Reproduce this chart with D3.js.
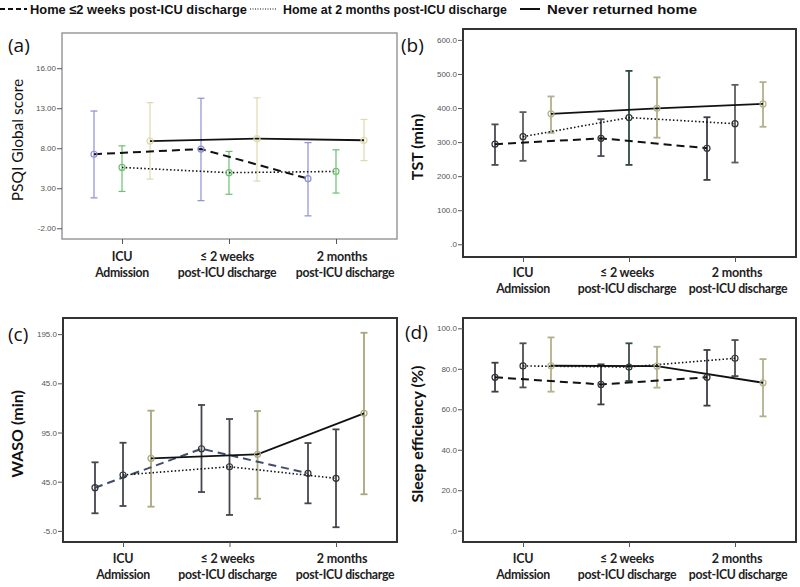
<!DOCTYPE html>
<html><head><meta charset="utf-8">
<script src="https://cdn.jsdelivr.net/npm/d3@7"></script>
<style>body{margin:0;background:#fff}svg{display:block}</style>
</head><body>
<svg id="chart" width="800" height="587"></svg>
<script>
// ---------- data ----------
const groups = ["Home \u22642 weeks post-ICU discharge", "Home at 2 months post-ICU discharge", "Never returned home"];
const catLine1 = ["ICU", "\u2264  2 weeks", "2 months"];
const catLine2 = ["Admission", "post-ICU discharge", "post-ICU discharge"];

// (a) PSQI Global score
const psqiTicks = [-2, 3, 8, 13, 18];
const psqiTickLabels = ["-2.00", "3.00", "8.00", "13.00", "16.00"];
const psqiMean = [[7.25, 7.9, 4.2], [5.6, 4.95, 5.1], [8.9, 9.2, 9.0]];
const psqiLow  = [[1.8, 1.45, -0.45], [2.6, 2.25, 2.4], [4.15, 3.9, 6.45]];
const psqiHigh = [[12.65, 14.25, 8.7], [8.3, 7.6, 7.8], [13.7, 14.3, 11.6]];

// (b) TST (min)
const tstTicks = [0, 100, 200, 300, 400, 500, 600];
const tstTickLabels = [".0", "100.0", "200.0", "300.0", "400.0", "500.0", "600.0"];
const tstMean = [[294, 311, 282], [316, 372, 354], [383, 399, 412]];
const tstLow  = [[233, 259, 189], [245, 233, 240], [327, 313, 345]];
const tstHigh = [[352, 367, 373], [388, 509, 468], [434, 490, 476]];

// (c) WASO (min)
const wasoTicks = [-5, 45, 95, 145, 195];
const wasoTickLabels = ["-5.0", "45.0", "95.0", "45.0", "195.0"];
const wasoMean = [[38.9, 78.5, 53.5], [51.8, 60.2, 48.4], [68.8, 72.8, 114.5]];
const wasoLow  = [[12.9, 34.5, 23], [20.3, 11.2, -1.3], [19.6, 27.7, 32.2]];
const wasoHigh = [[64.7, 123, 84.3], [84.6, 108.7, 98.2], [117.2, 116.8, 196.4]];

// (d) Sleep efficiency (%)
const seTicks = [0, 20, 40, 60, 80, 100];
const seTickLabels = [".0", "20.0", "40.0", "60.0", "80.0", "100.0"];
const seMean = [[75.8, 72.3, 75.8], [81.4, 80.9, 85.2], [81.5, 81.3, 73.1]];
const seLow  = [[68.7, 62.4, 61.8], [70.8, 74, 76.4], [68.7, 70.7, 56.5]];
const seHigh = [[83, 82.2, 89.3], [92.6, 92.6, 94.2], [95.5, 90.9, 84.8]];

// ---------- drawing ----------
const svg = d3.select("#chart");
const lineDash = ["8,5", "1.5,2.2", null];
const lineW = [2, 1.6, 1.8];

const panels = [
  {tag: "(a)", title: "PSQI Global score", bold: false, x0: 62, x1: 397, y0: 33, y1: 239,
   domain: [-3.34, 22.4], ticks: psqiTicks, labels: psqiTickLabels, mean: psqiMean, low: psqiLow, high: psqiHigh,
   barColors: [["#8c90d4","#8c90d4","#8c90d4"],["#6dbf72","#6dbf72","#6dbf72"],["#dedaae","#dedaae","#dedaae"]],
   barW: 1.2, lineColors: ["#111","#111","#111"], frame: "#8a8a8a", frameW: 1.3,
   tagPos: [8, 52], titleX: 17, labY: 257, shift: 6},
  {tag: "(b)", title: "TST (min)", bold: true, x0: 463, x1: 796, y0: 29, y1: 257,
   domain: [-37.3, 632], ticks: tstTicks, labels: tstTickLabels, mean: tstMean, low: tstLow, high: tstHigh,
   barColors: [["#4a4c55","#4a4c55","#3c3e48"],["#5a5e60","#2f4d3e","#5a5e60"],["#b3b08a","#b3b08a","#b3b08a"]],
   barW: 1.8, lineColors: ["#111","#111","#111"], frame: "#333", frameW: 2,
   tagPos: [401, 52], titleX: 417, labY: 273, shift: 2},
  {tag: "(c)", title: "WASO (min)", bold: true, x0: 63, x1: 397, y0: 318, y1: 542,
   domain: [-16.3, 211.4], ticks: wasoTicks, labels: wasoTickLabels, mean: wasoMean, low: wasoLow, high: wasoHigh,
   barColors: [["#45474f","#45474f","#45474f"],["#45474f","#45474f","#45474f"],["#aaa67e","#aaa67e","#aaa67e"]],
   barW: 1.8, lineColors: ["#3d4d6a","#111","#111"], frame: "#333", frameW: 2,
   tagPos: [8, 341], titleX: 17, labY: 559, shift: 6},
  {tag: "(d)", title: "Sleep efficiency  (%)", bold: true, x0: 463, x1: 796, y0: 318, y1: 542,
   domain: [-5.58, 105.1], ticks: seTicks, labels: seTickLabels, mean: seMean, low: seLow, high: seHigh,
   barColors: [["#3c3e46","#3c3e46","#3c3e46"],["#4b4f52","#3a4f44","#4b4f52"],["#b3b08a","#b3b08a","#b3b08a"]],
   barW: 1.8, lineColors: ["#111","#111","#111"], frame: "#333", frameW: 2,
   tagPos: [405, 339], titleX: 417, labY: 559, shift: 2}
];

panels.forEach(p => {
  const g = svg.append("g");
  const x = d3.scalePoint().domain(catLine1).range([p.x0 + 60, p.x1 - 61]);
  const off = d3.scalePoint().domain(groups).range([-28, 28]);
  const y = d3.scaleLinear().domain(p.domain).range([p.y1, p.y0]);

  // frame
  g.append("rect").attr("x", p.x0).attr("y", p.y0).attr("width", p.x1 - p.x0).attr("height", p.y1 - p.y0)
    .attr("fill", "none").attr("stroke", p.frame).attr("stroke-width", p.frameW);

  // y axis
  const yAxis = d3.axisLeft(y).tickValues(p.ticks).tickSize(5).tickPadding(1)
    .tickFormat((d, i) => p.labels[i]);
  const ya = g.append("g").attr("transform", `translate(${p.x0},0)`).call(yAxis);
  ya.select(".domain").remove();
  ya.selectAll(".tick line").attr("stroke", "#555");
  ya.selectAll(".tick text").attr("fill", "#555").style("font", "8px 'Liberation Sans', Arial, sans-serif");

  // x axis ticks
  const xAxis = d3.axisBottom(x).tickSize(5).tickFormat("");
  const xa = g.append("g").attr("transform", `translate(0,${p.y1})`).call(xAxis);
  xa.select(".domain").remove();
  xa.selectAll(".tick line").attr("stroke", "#555");

  // category labels
  catLine1.forEach((c, i) => {
    const cx = x(c) + (i === 2 ? p.shift : 0) - (i === 1 ? 2 : 0);
    g.append("text").attr("x", cx).attr("y", p.labY + 4).attr("text-anchor", "middle")
      .style("font", "bold 12.5px Lato, 'Open Sans', sans-serif").style("letter-spacing", "-0.2px")
      .attr("fill", "#222").text(c);
    g.append("text").attr("x", cx + (i === 2 ? p.shift / 2 : 0)).attr("y", p.labY + 20).attr("text-anchor", "middle")
      .style("font", "bold 12.3px Lato, 'Open Sans', sans-serif").style("letter-spacing", "-0.35px")
      .attr("fill", "#222").text(catLine2[i]);
  });

  // error bars
  groups.forEach((gr, gi) => {
    catLine1.forEach((c, ci) => {
      const cx = x(c) + off(gr);
      const col = p.barColors[gi][ci];
      const yl = y(p.low[gi][ci]), yh = y(p.high[gi][ci]);
      g.append("line").attr("x1", cx).attr("x2", cx).attr("y1", yl).attr("y2", yh)
        .attr("stroke", col).attr("stroke-width", p.barW);
      [yl, yh].forEach(yy => g.append("line").attr("x1", cx - 3.5).attr("x2", cx + 3.5)
        .attr("y1", yy).attr("y2", yy).attr("stroke", col).attr("stroke-width", p.barW));
    });
  });

  // lines
  groups.forEach((gr, gi) => {
    const pts = catLine1.map((c, ci) => [x(c) + off(gr), y(p.mean[gi][ci])]);
    const path = g.append("path").attr("d", d3.line()(pts)).attr("fill", "none")
      .attr("stroke", p.lineColors[gi]).attr("stroke-width", lineW[gi]);
    if (lineDash[gi]) path.attr("stroke-dasharray", lineDash[gi]);
  });

  // markers
  groups.forEach((gr, gi) => {
    catLine1.forEach((c, ci) => {
      g.append("circle").attr("cx", x(c) + off(gr)).attr("cy", y(p.mean[gi][ci])).attr("r", 3)
        .attr("fill", "none").attr("stroke", gi === 2 ? p.barColors[gi][ci] : (p.tag === "(a)" ? p.barColors[gi][ci] : "#333"))
        .attr("stroke-width", 1.2);
    });
  });

  // panel tag
  g.append("text").attr("x", p.tagPos[0]).attr("y", p.tagPos[1])
    .style("font", "19px 'Open Sans', Lato, sans-serif").attr("fill", "#111").text(p.tag);

  // y title
  const cy = (p.y0 + p.y1) / 2 + 4;
  g.append("text").attr("transform", `translate(${p.titleX + 6},${cy}) rotate(-90)`).attr("text-anchor", "middle")
    .style("font", (p.bold ? "bold 16px" : "15.5px") + " Lato, 'Open Sans', sans-serif").attr("fill", "#111")
    .text(p.title);
});

// legend
const leg = svg.append("g");
const legX = [0, 250, 520];
const legTextX = [30, 283, 547];
const legTextW = [217, 224, 150];
groups.forEach((gr, gi) => {
  const l = leg.append("line").attr("x1", legX[gi]).attr("x2", legX[gi] + (gi === 2 ? 20 : 27))
    .attr("y1", 9).attr("y2", 9).attr("stroke", "#111").attr("stroke-width", gi === 1 ? 1.2 : 2);
  if (gi === 0) l.attr("stroke-dasharray", "5,3");
  if (gi === 1) l.attr("stroke-dasharray", "1,1.5");
  leg.append("text").attr("x", legTextX[gi]).attr("y", 14)
    .attr("textLength", legTextW[gi]).attr("lengthAdjust", "spacingAndGlyphs")
    .style("font", "bold 13px 'Liberation Sans', Arial, sans-serif").attr("fill", "#111").text(gr);
});
</script>
</body></html>
